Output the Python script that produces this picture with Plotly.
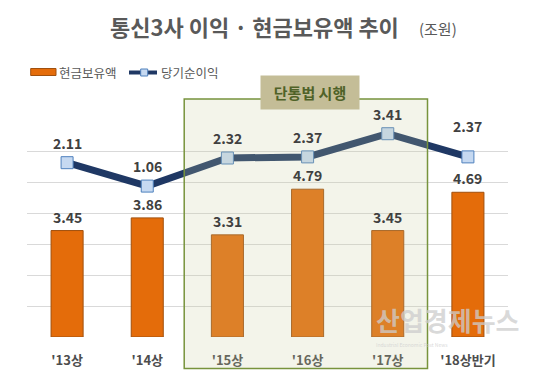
import plotly.graph_objects as go

categories = ["'13상", "'14상", "'15상", "'16상", "'17상", "'18상반기"]
cash = [3.45, 3.86, 3.31, 4.79, 3.45, 4.69]
profit = [2.11, 1.06, 2.32, 2.37, 3.41, 2.37]

# style: vertical offsets (px) of the profit labels above their markers
profit_label_shift = [20, 20, 20, 20, 20, 31]

FONT = "Noto Sans CJK KR"
W, H = 544, 374
L, R, T, B = 27, 36, 121, 37
PW, PH = W - L - R, H - T - B


def px(x):
    return (x - L) / PW


def py(y):
    return (H - B - y) / PH


fig = go.Figure()

fig.add_trace(go.Bar(
    x=categories, y=cash, name="현금보유액",
    marker=dict(color="#E46C0A", line=dict(color="#A0500E", width=1)),
    width=0.4, showlegend=False,
))

fig.add_trace(go.Scatter(
    x=categories, y=profit, name="당기순이익", yaxis="y2",
    mode="lines+markers",
    line=dict(color="#1F3864", width=7),
    marker=dict(symbol="square", size=12, color="#C6D9F1",
                line=dict(color="#4F81BD", width=1)),
    cliponaxis=False, showlegend=False,
))

for c, v in zip(categories, cash):
    fig.add_annotation(x=c, y=v, yref="y", text=f"<b>{v:.2f}</b>",
                       showarrow=False, yshift=14, yanchor="middle",
                       font=dict(family=FONT, size=14, color="#404040"))

for c, v, s in zip(categories, profit, profit_label_shift):
    fig.add_annotation(x=c, y=v, yref="y2", text=f"<b>{v:.2f}</b>",
                       showarrow=False, yshift=s, yanchor="middle",
                       font=dict(family=FONT, size=14, color="#404040"))

# translucent highlight box over 단통법 period
fig.add_shape(type="rect", xref="x", yref="paper",
              x0=1.461, x1=4.496, y0=py(368.5), y1=py(99),
              fillcolor="rgba(197,204,154,0.21)",
              line=dict(color="#77933C", width=1.5), layer="above")

fig.add_annotation(xref="x", yref="paper", x=3.03, y=py(92),
                   xanchor="center", yanchor="middle",
                   text="<b>단통법 시행</b>", showarrow=False,
                   bgcolor="#C4BD97", width=96, height=31, borderpad=1,
                   font=dict(family=FONT, size=15, color="#4F6228"))

# title
fig.add_annotation(xref="paper", yref="paper", x=px(254.5), y=py(26),
                   xanchor="center", yanchor="middle",
                   text="<b>통신3사 이익 · 현금보유액 추이</b>", showarrow=False,
                   font=dict(family=FONT, size=22, color="#595959"))
fig.add_annotation(xref="paper", yref="paper", x=px(417), y=py(28),
                   xanchor="left", yanchor="middle",
                   text="(조원)", showarrow=False,
                   font=dict(family=FONT, size=15, color="#595959"))

# legend (drawn manually)
fig.add_shape(type="rect", xref="paper", yref="paper",
              x0=px(30.7), x1=px(56), y0=py(75.5), y1=py(68.5),
              fillcolor="#E46C0A", line=dict(color="#A0500E", width=1))
fig.add_annotation(xref="paper", yref="paper", x=px(57), y=py(72.5),
                   xanchor="left", yanchor="middle", text="현금보유액",
                   showarrow=False,
                   font=dict(family=FONT, size=12.5, color="#595959"))
fig.add_shape(type="line", xref="paper", yref="paper",
              x0=px(129), x1=px(157), y0=py(72.5), y1=py(72.5),
              line=dict(color="#1F3864", width=4))
fig.add_shape(type="rect", xref="paper", yref="paper",
              x0=px(140.7), x1=px(147.7), y0=py(76), y1=py(69),
              fillcolor="#C6D9F1", line=dict(color="#4F81BD", width=1))
fig.add_annotation(xref="paper", yref="paper", x=px(158.5), y=py(72.5),
                   xanchor="left", yanchor="middle", text="당기순이익",
                   showarrow=False,
                   font=dict(family=FONT, size=12.5, color="#595959"))

# watermark (one text block: name + small subtitle)
fig.add_annotation(xref="paper", yref="paper", x=px(375), y=py(349),
                   xanchor="left", yanchor="bottom", align="left",
                   text=("<span style='font-size:26px'><b>산업경제뉴스</b></span><br>"
                         "<span style='font-size:5px'>Industrial Economic Post News</span>"),
                   showarrow=False, borderpad=0,
                   font=dict(family=FONT, size=12, color="rgba(205,205,205,0.75)"))

fig.update_layout(
    width=W, height=H,
    margin=dict(l=L, r=R, t=T, b=B, autoexpand=False),
    paper_bgcolor="white", plot_bgcolor="white",
    showlegend=False,
    xaxis=dict(type="category", showgrid=False, showline=False,
               ticks="outside", ticklen=11, tickcolor="rgba(0,0,0,0)",
               tickfont=dict(family=FONT, size=13, color="#4D4D4D"),
               tickprefix="<b>", ticksuffix="</b>",
               range=[-0.5, 5.5]),
    yaxis=dict(range=[0, 7], dtick=1, showgrid=True, gridcolor="#D9D9D9",
               gridwidth=1, showticklabels=False, zeroline=False, ticks=""),
    yaxis2=dict(range=[-5.71, 3.98], overlaying="y", side="right",
                showgrid=False, showticklabels=False, zeroline=False),
    font=dict(family=FONT),
)

fig.write_html("out.html", config={"displayModeBar": False},
               post_script="document.body.style.margin='0';")
